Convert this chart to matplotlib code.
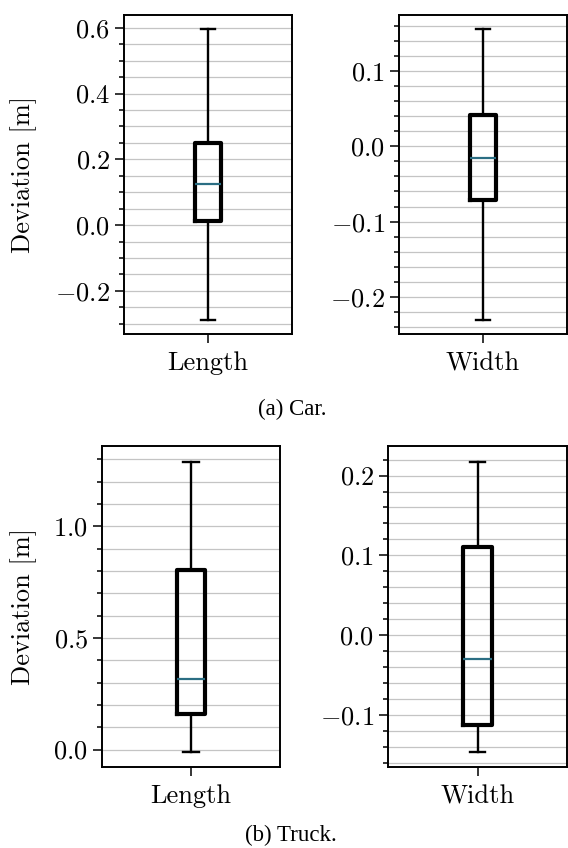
import matplotlib
matplotlib.use("Agg")
import matplotlib.pyplot as plt
from matplotlib.ticker import MultipleLocator

plt.rcParams['font.family'] = 'cmr10'
plt.rcParams['mathtext.fontset'] = 'cm'
plt.rcParams['axes.formatter.use_mathtext'] = True
plt.rcParams['axes.unicode_minus'] = True

# box statistics: [whislo, q1, med, q3, whishi]
car_length = [-0.287, 0.012, 0.124, 0.250, 0.595]
car_width = [-0.230, -0.071, -0.016, 0.041, 0.155]
truck_length = [-0.012, 0.158, 0.318, 0.803, 1.289]
truck_width = [-0.146, -0.112, -0.030, 0.111, 0.217]

labels = ["Length", "Width", "Length", "Width"]
captions = ["(a) Car.", "(b) Truck."]

W, H = 568, 848
fig = plt.figure(figsize=(W / 100, H / 100), dpi=100)

def px_axes(x0, x1, y0, y1):
    return fig.add_axes([x0 / W, 1 - y1 / H, (x1 - x0) / W, (y1 - y0) / H])

median_col = '#2b6e83'

def draw(ax, vals, label, ylim, major, minor):
    st = dict(whislo=vals[0], q1=vals[1], med=vals[2], q3=vals[3], whishi=vals[4], fliers=[])
    ax.bxp([st], positions=[1], widths=0.16, capwidths=0.085, showfliers=False,
           boxprops=dict(color='black', linewidth=3.0),
           whiskerprops=dict(color='black', linewidth=1.7),
           capprops=dict(color='black', linewidth=1.7),
           medianprops=dict(color=median_col, linewidth=1.6))
    ax.set_xlim(0.5, 1.5)
    ax.set_ylim(*ylim)
    ax.set_xticks([1])
    ax.set_xticklabels([label], fontsize=19)
    ax.yaxis.set_major_locator(MultipleLocator(major))
    ax.yaxis.set_minor_locator(MultipleLocator(minor))
    ax.set_axisbelow(True)
    ax.grid(which='both', axis='y', color='#c4c4c4', linewidth=0.9)
    ax.tick_params(which='major', length=6.5, width=1.1, labelsize=19)
    ax.tick_params(which='minor', length=3.4, width=1.1)
    ax.tick_params(axis='x', pad=6)
    for s in ax.spines.values():
        s.set_linewidth(1.4)

ax1 = px_axes(124, 292, 15, 334)
draw(ax1, car_length, labels[0], (-0.331, 0.639), 0.2, 0.05)
ax1.set_ylabel("Deviation [m]", fontsize=19)
ax1.yaxis.set_label_coords(-0.518, 0.5)

ax2 = px_axes(399, 567, 15, 334)
draw(ax2, car_width, labels[1], (-0.249, 0.174), 0.1, 0.02)

ax3 = px_axes(102, 280, 446, 767)
draw(ax3, truck_length, labels[2], (-0.078, 1.359), 0.5, 0.1)
ax3.set_ylabel("Deviation [m]", fontsize=19)
ax3.yaxis.set_label_coords(-0.365, 0.5)

ax4 = px_axes(388, 567, 446, 767)
draw(ax4, truck_width, labels[3], (-0.165, 0.237), 0.1, 0.02)

fig.text(292 / W, 1 - 409 / H, captions[0], ha='center', va='center',
         fontsize=16.5, family='Liberation Serif')
fig.text(291 / W, 1 - 835 / H, captions[1], ha='center', va='center',
         fontsize=16.5, family='Liberation Serif')

fig.savefig("out.png", dpi=100)
